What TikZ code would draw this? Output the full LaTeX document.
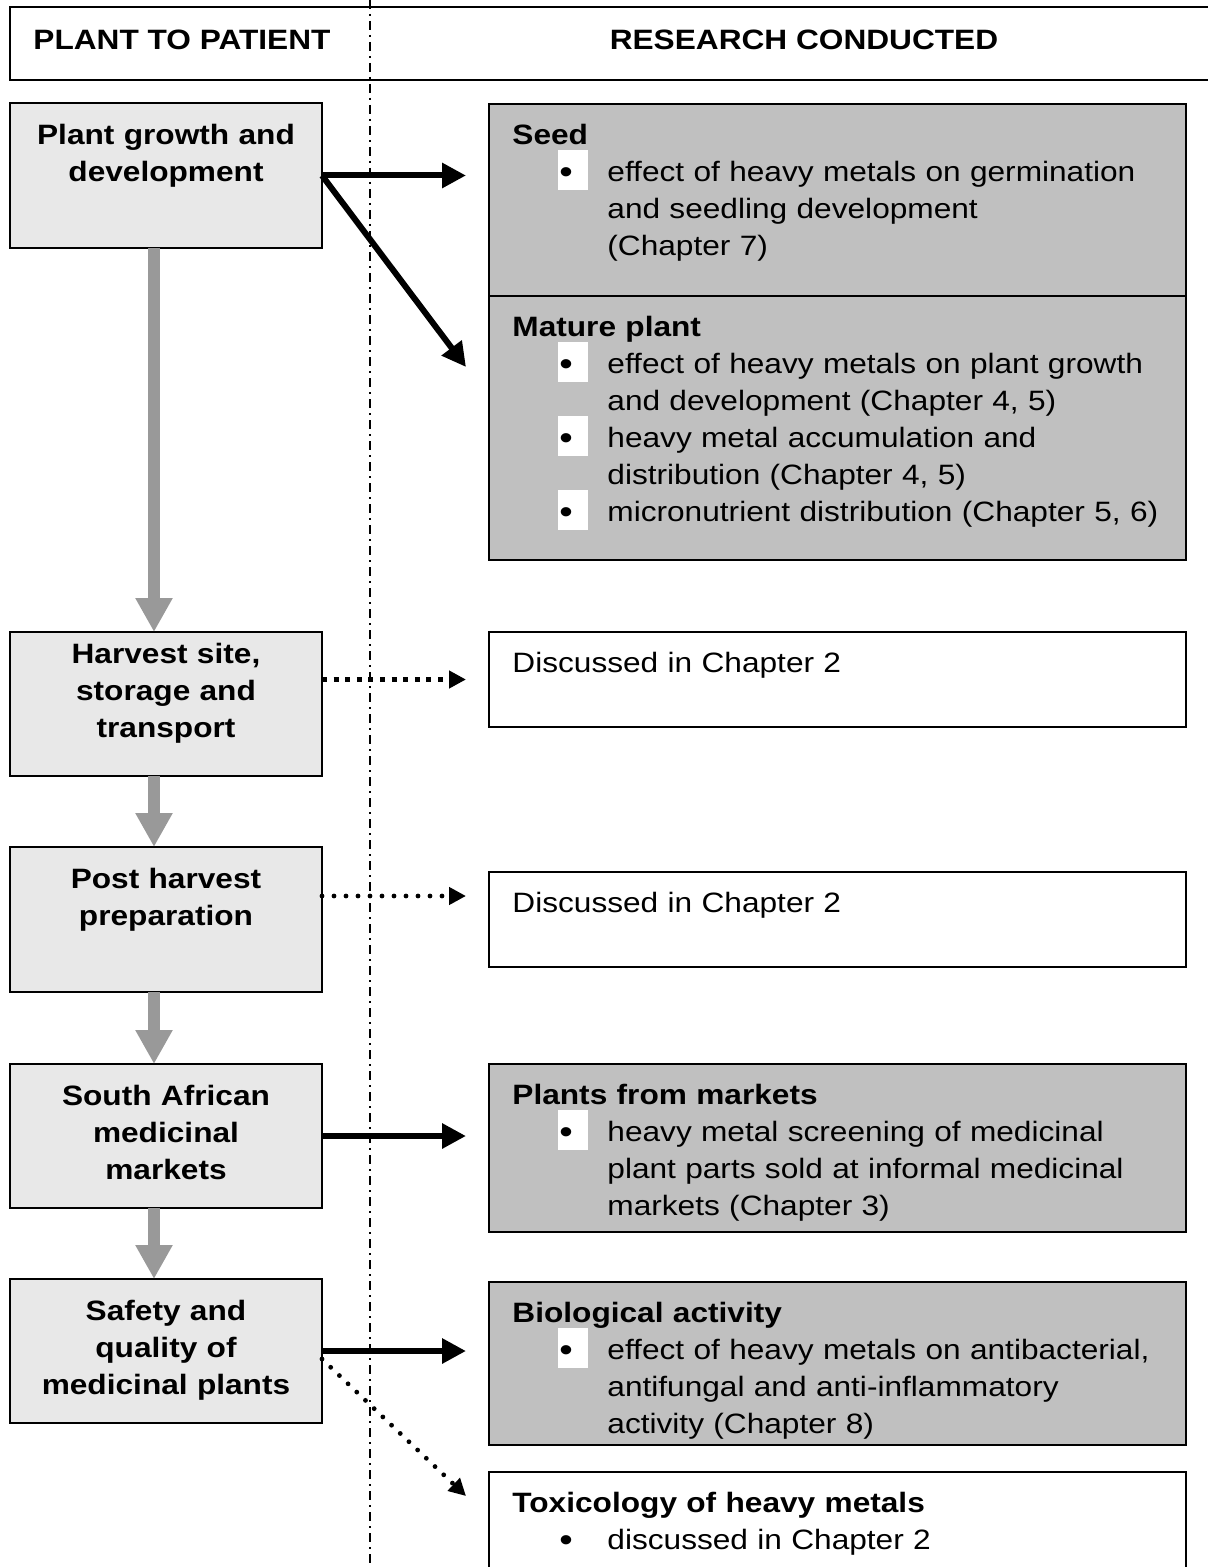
\documentclass[tikz,border=0pt]{standalone}
\usepackage{fontspec}
\setmainfont{Liberation Sans}[FakeStretch=1.13]
\usetikzlibrary{arrows.meta,positioning}

\definecolor{boxlight}{RGB}{232,232,232}
\definecolor{boxdark}{RGB}{192,192,192}
\definecolor{flowgrey}{RGB}{153,153,153}

\newcommand{\bodyfont}{\fontsize{14pt}{18.5pt}\selectfont}
\newcommand{\bigdot}{\raisebox{-1.2pt}{\fontsize{17pt}{17pt}\selectfont\textbullet}}
\newcommand{\bitem}[1]{\par\noindent\hangindent=47.5pt\hangafter=0\strut\llap{\makebox[24.5pt][l]{\smash{\textcolor{white}{\rule[-4.5pt]{15pt}{20pt}}}\hspace{-14.5pt}\smash{\bigdot}}}#1\par}

\tikzset{
	stagebox/.style={draw, line width=1pt, fill=boxlight, anchor=north west, inner sep=0pt, outer sep=0pt, minimum width=156pt},
	resbox/.style={draw, line width=1pt, anchor=north west, inner sep=0pt, outer sep=0pt, minimum width=348.5pt},
	stagetxt/.style={anchor=north, inner sep=0pt, text width=150pt, align=center, font=\bodyfont\bfseries},
	restxt/.style={anchor=north west, inner sep=0pt, text width=336pt, align=left, font=\bodyfont},
	headtxt/.style={inner sep=0pt, font=\bodyfont\bfseries},
	flow/.style={flowgrey, line width=6pt, -{Triangle[length=17pt,width=17.5pt]}},
	link/.style={line width=3pt, -{Triangle[length=12pt,width=12pt]}, shorten >=11.5pt},
	squaredots/.style={line width=2.5pt, dash pattern=on 2.5pt off 3.3pt, -{Triangle[length=8.5pt,width=8.5pt]}, shorten >=11.5pt},
	rounddots/.style={line width=2.4pt, line cap=round, dash pattern=on 0pt off 6pt, -{Triangle[length=8.5pt,width=8.5pt]}, shorten >=11.5pt},
	divider/.style={line width=1pt, dash pattern=on 4.5pt off 2.5pt on 1pt off 2.5pt}
}

\begin{document}
\begin{tikzpicture}[x=0.5pt, y=-0.5pt]
	\useasboundingbox (0,0) rectangle (1208,1567);

	% headings
	\node[draw, line width=1pt, anchor=north west, outer sep=0pt, minimum width=602.5pt, minimum height=36.5pt] (header) at (10,7) {};
	\draw[divider] (370,0) -- (370,1567);
	\node[headtxt, anchor=base west] (lefthead) at (33,50) {PLANT TO PATIENT};
	\node[headtxt, anchor=base] (righthead) at (804,50) {RESEARCH CONDUCTED};

	% plant to patient
	\node[stagebox, minimum height=72.5pt] (growth) at (10,103) {};
	\node[stagebox, minimum height=72pt] (harvest) at (10,632) {};
	\node[stagebox, minimum height=72.5pt] (post) at (10,847) {};
	\node[stagebox, minimum height=72pt] (markets) at (10,1064) {};
	\node[stagebox, minimum height=72pt] (safety) at (10,1279) {};

	\node[stagetxt] (growthtxt) at ([yshift=-7.55pt]growth.north) {\strut Plant growth and\\development};
	\node[stagetxt] (harvesttxt) at ([yshift=-2.55pt]harvest.north) {\strut Harvest site,\\storage and\\transport};
	\node[stagetxt] (posttxt) at ([yshift=-7.55pt]post.north) {\strut Post harvest\\preparation};
	\node[stagetxt] (marketstxt) at ([yshift=-7.55pt]markets.north) {\strut South African\\medicinal\\markets};
	\node[stagetxt] (safetytxt) at ([yshift=-7.55pt]safety.north) {\strut Safety and\\quality of\\medicinal plants};

	\draw[flow] ([xshift=-6pt]growth.south) -- ([xshift=-6pt]harvest.north);
	\draw[flow] ([xshift=-6pt]harvest.south) -- ([xshift=-6pt]post.north);
	\draw[flow] ([xshift=-6pt]post.south) -- ([xshift=-6pt]markets.north);
	\draw[flow] ([xshift=-6pt]markets.south) -- ([xshift=-6pt]safety.north);

	% research conducted
	\node[resbox, fill=boxdark, minimum height=96pt] (seed) at (489,104) {};
	\node[resbox, fill=boxdark, minimum height=132pt, below=0pt of seed] (mature) {};
	\node[resbox, minimum height=47.5pt] (chaptwoa) at (489,632) {};
	\node[resbox, minimum height=47.5pt] (chaptwob) at (489,872) {};
	\node[resbox, fill=boxdark, minimum height=84pt] (plants) at (489,1064) {};
	\node[resbox, fill=boxdark, minimum height=81.5pt] (bioact) at (489,1282) {};
	\node[resbox, minimum height=60pt] (toxic) at (489,1472) {};

	\node[restxt] (seedtxt) at ([xshift=11.5pt,yshift=-7.05pt]seed.north west) {\strut\textbf{Seed}
		\bitem{effect of heavy metals on germination\newline and seedling development\newline (Chapter 7)}};
	\node[restxt] (maturetxt) at ([xshift=11.5pt,yshift=-7.05pt]mature.north west) {\strut\textbf{Mature plant}
		\bitem{effect of heavy metals on plant growth\newline and development (Chapter 4, 5)}
		\bitem{heavy metal accumulation and\newline distribution (Chapter 4, 5)}
		\bitem{micronutrient distribution (Chapter 5, 6)}};
	\node[restxt] (chaptwoatxt) at ([xshift=11.5pt,yshift=-7.05pt]chaptwoa.north west) {\strut Discussed in Chapter 2};
	\node[restxt] (chaptwobtxt) at ([xshift=11.5pt,yshift=-7.05pt]chaptwob.north west) {\strut Discussed in Chapter 2};
	\node[restxt] (plantstxt) at ([xshift=11.5pt,yshift=-7.05pt]plants.north west) {\strut\textbf{Plants from markets}
		\bitem{heavy metal screening of medicinal\newline plant parts sold at informal medicinal\newline markets (Chapter 3)}};
	\node[restxt] (bioacttxt) at ([xshift=11.5pt,yshift=-7.05pt]bioact.north west) {\strut\textbf{Biological activity}
		\bitem{effect of heavy metals on antibacterial,\newline antifungal and anti-inflammatory\newline activity (Chapter 8)}};
	\node[restxt] (toxictxt) at ([xshift=11.5pt,yshift=-7.05pt]toxic.north west) {\strut\textbf{Toxicology of heavy metals}
		\bitem{discussed in Chapter 2}};

	% links
	\draw[link] (growth.east) -- (growth.east -| seed.west);
	\draw[link, shorten >=0pt] (growth.east) -- ([xshift=-11.5pt,yshift=-35.5pt]mature.north west);
	\draw[squaredots] (chaptwoa.west -| harvest.east) -- (chaptwoa.west);
	\draw[rounddots] ([yshift=11.75pt]post.east) -- ([yshift=11.75pt]post.east -| chaptwob.west);
	\draw[link] (markets.east) -- (markets.east -| plants.west);
	\draw[link] (safety.east) -- (safety.east -| bioact.west);
	\draw[rounddots, shorten >=0pt] ([yshift=-4pt]safety.east) -- ([xshift=-11.5pt,yshift=-12pt]toxic.north west);
\end{tikzpicture}
\end{document}
